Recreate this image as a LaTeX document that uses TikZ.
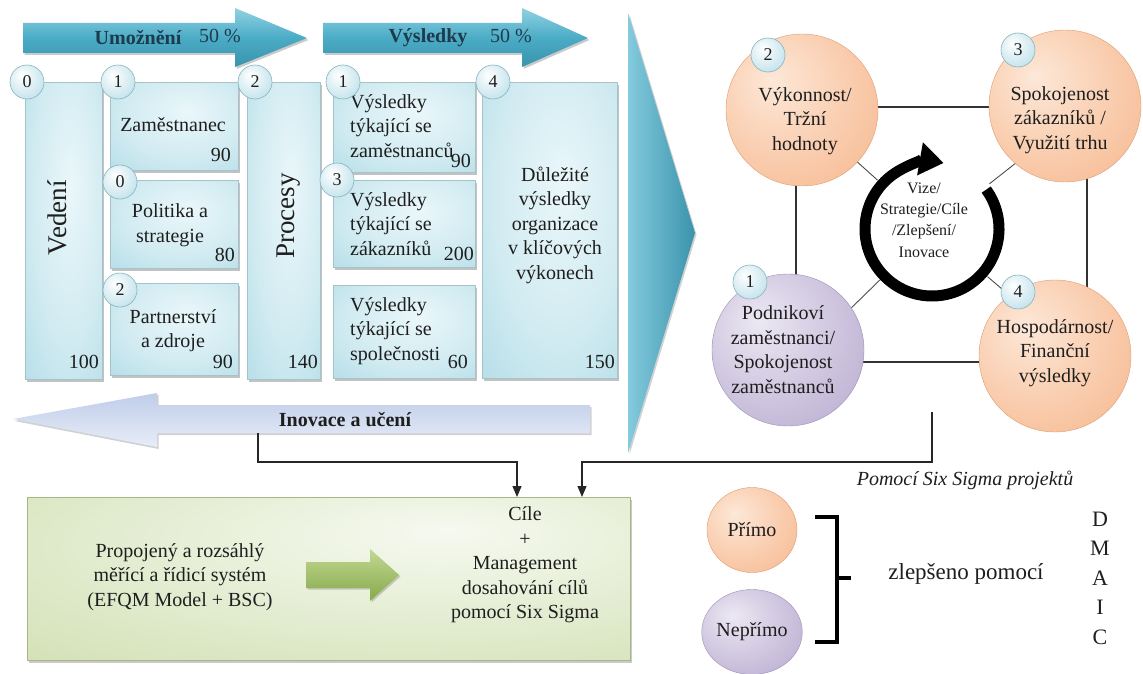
\documentclass[tikz,border=0pt]{standalone}
\usepackage{fontspec}
\setmainfont{Liberation Serif}
\usetikzlibrary{arrows.meta,shadows,shapes.geometric}
\definecolor{tealA}{HTML}{4BACC6}
\definecolor{tealL}{HTML}{92D2E2}
\definecolor{tealD}{HTML}{3A93AC}
\definecolor{boxIn}{HTML}{EAF7FA}
\definecolor{boxOut}{HTML}{9FD3E0}
\definecolor{orIn}{HTML}{FDE8D8}
\definecolor{orOut}{HTML}{F5AE7F}
\definecolor{puIn}{HTML}{ECE8F3}
\definecolor{puOut}{HTML}{AD9EC8}
\definecolor{grIn}{HTML}{F6F9F0}
\definecolor{grOut}{HTML}{C3D79C}
\definecolor{arrGa}{HTML}{C2D893}
\definecolor{arrGb}{HTML}{86A94A}
\definecolor{inoT}{HTML}{BFCDE9}
\definecolor{inoB}{HTML}{E8EDF8}
\definecolor{badgeOut}{HTML}{A4D4E2}
\definecolor{txt}{HTML}{1E1E1E}
\definecolor{navy}{HTML}{1F3A4D}
\pgfdeclareradialshading{orball}{\pgfpoint{-10bp}{10bp}}{color(0bp)=(orIn); color(22bp)=(orIn!55!orOut); color(50bp)=(orOut); color(75bp)=(orOut)}
\pgfdeclareradialshading{puball}{\pgfpoint{-10bp}{10bp}}{color(0bp)=(puIn); color(22bp)=(puIn!55!puOut); color(50bp)=(puOut); color(75bp)=(puOut)}
\pgfdeclareradialshading{bluesh}{\pgfpoint{5bp}{8bp}}{color(0bp)=(boxIn); color(25bp)=(boxIn!65!boxOut); color(55bp)=(boxOut); color(80bp)=(boxOut)}
\pgfdeclareradialshading{badgesh}{\pgfpoint{-8bp}{10bp}}{color(0bp)=(white); color(20bp)=(white!60!badgeOut); color(50bp)=(badgeOut); color(75bp)=(badgeOut)}
\pgfdeclareradialshading{greensh}{\pgfpoint{10bp}{15bp}}{color(0bp)=(grIn); color(30bp)=(grIn!55!grOut); color(65bp)=(grOut); color(90bp)=(grOut)}
\newcommand{\fsA}{\fontsize{20}{24.5}\selectfont}
\begin{document}
\begin{tikzpicture}[x=1pt,y=-1pt,
  lab/.style={font=\fsA, text=txt, align=center, inner sep=0pt},
  bluebox/.style={rectangle, draw=boxOut!80!black!70, line width=0.5pt, shade, shading=bluesh, inner sep=0pt, anchor=north west,
    drop shadow={shadow xshift=2pt, shadow yshift=-2.5pt, opacity=0.4, fill=black!60}},
  badge/.style={circle, minimum size=34pt, inner sep=0pt, draw=boxOut!85!black, line width=0.6pt, shade, shading=badgesh,
    font=\fontsize{18}{20}\selectfont, text=txt},
  orc/.style={circle, minimum size=152pt, inner sep=0pt, shade, shading=orball, draw=orOut!90!black, line width=0.4pt},
  puc/.style={circle, minimum size=152pt, inner sep=0pt, shade, shading=puball, draw=puOut!90!black, line width=0.4pt},
  tealarrow/.style={top color=tealL, bottom color=tealD, middle color=tealA,
    drop shadow={shadow xshift=1.5pt, shadow yshift=-2pt, opacity=0.35, fill=black!60}},
  conn/.style={draw=black!85, line width=1.2pt, -{Triangle[length=11pt,width=9pt]}},
  sqline/.style={draw=black!80, line width=1.1pt}
]
\useasboundingbox (0,0) rectangle (1143,674);

% ---------- top arrows ----------
\path[tealarrow] (23,23) -- (235,23) -- (235,8) -- (307,38) -- (235,67) -- (235,53) -- (23,53) -- cycle;
\node[lab, font=\fsA\bfseries, text=navy] (umoz) at (138,38) {Umožnění};
\node[lab, text=navy] (umozp) at (220,36) {50 \%};
\path[tealarrow] (323,23) -- (522,23) -- (522,8) -- (588,38) -- (522,67) -- (522,53) -- (323,53) -- cycle;
\node[lab, font=\fsA\bfseries, text=navy] (vysl) at (428,38) {Výsledky};
\node[lab, text=navy] (vyslp) at (511,36) {50 \%};

% ---------- big triangle ----------
\path[left color=tealL!80!tealA, right color=tealD, drop shadow={shadow xshift=1.5pt, shadow yshift=-1.5pt, opacity=0.3, fill=black!60}]
  (628,13) -- (695,233) -- (628,453) -- cycle;

% ---------- boxes ----------
\node[bluebox, minimum width=77pt, minimum height=297pt] (ved) at (25,82) {};
\node[bluebox, minimum width=128pt, minimum height=88pt] (zam) at (110,82) {};
\node[bluebox, minimum width=128pt, minimum height=88pt] (pol) at (110,180) {};
\node[bluebox, minimum width=128pt, minimum height=92pt] (par) at (110,283) {};
\node[bluebox, minimum width=73pt, minimum height=297pt] (pro) at (247,82) {};
\node[bluebox, minimum width=142pt, minimum height=90pt] (vz) at (333,82) {};
\node[bluebox, minimum width=142pt, minimum height=87pt] (vk) at (333,180) {};
\node[bluebox, minimum width=142pt, minimum height=93pt] (vs) at (333,285) {};
\node[bluebox, minimum width=135pt, minimum height=296pt] (dv) at (482,82) {};

% box texts
\node[lab, rotate=90, font=\fontsize{27}{30}\selectfont] (vedt) at (57,218) {Vedení};
\node[lab, anchor=east] (vedn) at (99,362) {100};
\node[lab] (zamt) at (173,125) {Zaměstnanec};
\node[lab, anchor=east] (zamn) at (231,155) {90};
\node[lab] (polt) at (170,225) {Politika a\\strategie};
\node[lab, anchor=east] (poln) at (235,255) {80};
\node[lab] (part) at (173,330.5) {Partnerství\\a zdroje};
\node[lab, anchor=east] (parn) at (233,362) {90};
\node[lab, rotate=90, font=\fontsize{27}{30}\selectfont] (prot) at (289,216) {Procesy};
\node[lab, anchor=east] (pron) at (318,362) {140};
\node[lab, align=left, anchor=west] (vzt) at (350,126) {Výsledky\\týkající se\\zaměstnanců};
\node[lab, anchor=east] (vzn) at (471,161) {90};
\node[lab, align=left, anchor=west] (vkt) at (350,224) {Výsledky\\týkající se\\zákazníků};
\node[lab, anchor=east] (vkn) at (474,254) {200};
\node[lab, align=left, anchor=west] (vst) at (350,331) {Výsledky\\týkající se\\společnosti};
\node[lab, anchor=east] (vsn) at (468,362) {60};
\node[lab] (dvt) at (555,225) {Důležité\\výsledky\\organizace\\v klíčových\\výkonech};
\node[lab, anchor=east] (dvn) at (615,362) {150};

% badges
\node[badge] (b0) at (27,82) {0};
\node[badge] (b1) at (118,82) {1};
\node[badge] (b2) at (255,82) {2};
\node[badge] (b3) at (343,82) {1};
\node[badge] (b4) at (493,82) {4};
\node[badge] (b5) at (120,182) {0};
\node[badge] (b6) at (120,290) {2};
\node[badge] (b7) at (337,180) {3};

% ---------- Inovace arrow ----------
\path[top color=inoT, bottom color=inoB, drop shadow={shadow xshift=1.5pt, shadow yshift=-2pt, opacity=0.3, fill=black!60}]
  (13,419) -- (157,393) -- (157,405) -- (590,405) -- (590,433) -- (157,433) -- (157,447) -- cycle;
\node[lab, font=\fsA\bfseries] (inot) at (345,420) {Inovace a učení};
\coordinate (inoOut) at (258,433);

% ---------- green box ----------
\node[rectangle, anchor=north west, minimum width=603pt, minimum height=163pt, shade, shading=greensh, draw=grOut!85!black, line width=0.4pt,
  drop shadow={shadow xshift=2pt, shadow yshift=-2.5pt, opacity=0.35, fill=black!60}] (gbox) at (27,497) {};
\node[lab] (gtext) at (180,577) {Propojený a rozsáhlý\\měřící a řídicí systém\\(EFQM Model + BSC)};
\path[top color=arrGa, bottom color=arrGb, drop shadow={shadow xshift=1.5pt, shadow yshift=-1.5pt, opacity=0.3, fill=black!60}]
  (306,562) -- (370,562) -- (370,549) -- (399,575) -- (370,601) -- (370,588) -- (306,588) -- cycle;
\node[lab] (cile) at (525,565) {Cíle\\+\\Management\\dosahování cílů\\pomocí Six Sigma};
\coordinate (inA) at (517,497);
\coordinate (inB) at (582,497);

% ---------- right panel ----------
\coordinate (ringc) at (932,229);
\draw[sqline] (796,107) rectangle (1087,362);
\draw[draw=black!70, line width=0.9pt] (796,107) -- (ringc) (1087,107) -- (ringc) (796,362) -- (ringc) (1087,362) -- (ringc);
\fill[white] (ringc) circle[radius=73];
\draw[line width=11pt, -{Triangle[length=24pt,width=32pt]}] (ringc) ++(-36:67) arc[start angle=-36, end angle=280, radius=67];
\node[lab, font=\fontsize{16}{21.3}\selectfont] (ringt) at (924,220) {Vize/\\Strategie/Cíle\\/Zlepšení/\\Inovace};

\node[orc] (c2) at (802,110) {};
\node[orc] (c3) at (1065,106) {};
\node[puc] (c1) at (788,350) {};
\node[orc] (c4) at (1055,356) {};
\node[lab] (c2t) at (805,121) {Výkonnost/\\Tržní\\hodnoty};
\node[lab] (c3t) at (1060,120) {Spokojenost\\zákazníků /\\Využití trhu};
\node[lab] (c1t) at (783,349.5) {Podnikoví\\zaměstnanci/\\Spokojenost\\zaměstnanců};
\node[lab] (c4t) at (1055,353) {Hospodárnost/\\Finanční\\výsledky};
\node[badge] (r2) at (768,55) {2};
\node[badge] (r3) at (1018,50) {3};
\node[badge] (r1) at (750,282) {1};
\node[badge] (r4) at (1018,292) {4};
\coordinate (sqOut) at (932,412);

% ---------- connectors ----------
\draw[conn] (inoOut) -- (258,462) -| (inA);
\draw[conn] (sqOut) -- (932,462) -| (inB);

% ---------- bottom right ----------
\node[lab, font=\fsA\itshape] (pomoc) at (965,480) {Pomocí Six Sigma projektů};
\node[ellipse, minimum width=90pt, minimum height=85pt, inner sep=0pt, shade, shading=orball, draw=orOut!90!black, line width=0.4pt, font=\fsA, text=txt] (primo) at (752,530) {Přímo};
\node[ellipse, minimum width=90pt, minimum height=85pt, inner sep=0pt, shade, shading=puball, draw=puOut!90!black, line width=0.4pt, font=\fsA, text=txt] (neprimo) at (752,632) {Nepřímo};
\draw[line width=3.5pt, line cap=butt] (815,517) -- (837,517) -- (837,642) -- (815,642);
\draw[line width=3.5pt] (837,578) -- (851,578);
\node[lab, font=\fontsize{23}{27}\selectfont] (zlep) at (966,574) {zlepšeno pomocí};
\node[lab, font=\fontsize{22}{29.5}\selectfont] (dmaic) at (1100,578) {D\\M\\A\\I\\C};
\end{tikzpicture}
\end{document}
